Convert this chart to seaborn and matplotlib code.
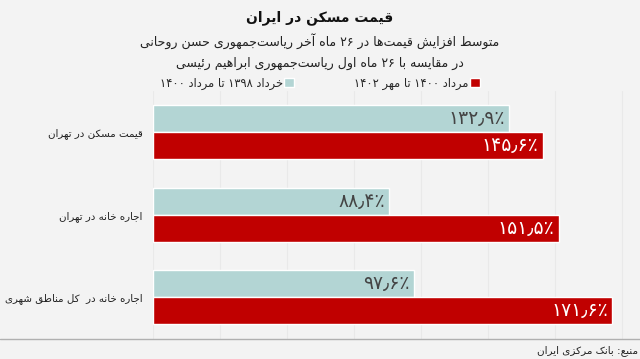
import re
import matplotlib
matplotlib.use("Agg")
import matplotlib.pyplot as plt
from matplotlib.patches import Patch
from matplotlib.lines import Line2D
import pandas as pd
import seaborn as sns

# ---------------- data ----------------
title = "قیمت مسکن در ایران"
subtitle1 = "متوسط افزایش قیمت‌ها در ۲۶ ماه آخر ریاست‌جمهوری حسن روحانی"
subtitle2 = "در مقایسه با ۲۶ ماه اول ریاست‌جمهوری ابراهیم رئیسی"
source = "منبع: بانک مرکزی ایران"
categories = ["قیمت مسکن در تهران", "اجاره خانه در تهران", "اجاره خانه در  کل مناطق شهری"]
series_names = ["خرداد ۱۳۹۸ تا مرداد ۱۴۰۰", "مرداد ۱۴۰۰ تا مهر ۱۴۰۲"]
rouhani_values = [132.9, 88.4, 97.6]
raisi_values = [145.6, 151.5, 171.6]
value_labels_rouhani = ["۱۳۲٫۹٪", "۸۸٫۴٪", "۹۷٫۶٪"]
value_labels_raisi = ["۱۴۵٫۶٪", "۱۵۱٫۵٪", "۱۷۱٫۶٪"]
colors = ["#b3d5d4", "#c00000"]

# ------------- minimal Persian shaping + bidi -------------
FORMS = {
    "\u0627": ("\uFE8D", "\uFE8E", None, None),
    "\u0622": ("\uFE81", "\uFE82", None, None),
    "\u0628": ("\uFE8F", "\uFE90", "\uFE91", "\uFE92"),
    "\u067E": ("\uFB56", "\uFB57", "\uFB58", "\uFB59"),
    "\u062A": ("\uFE95", "\uFE96", "\uFE97", "\uFE98"),
    "\u062B": ("\uFE99", "\uFE9A", "\uFE9B", "\uFE9C"),
    "\u062C": ("\uFE9D", "\uFE9E", "\uFE9F", "\uFEA0"),
    "\u0686": ("\uFB7A", "\uFB7B", "\uFB7C", "\uFB7D"),
    "\u062D": ("\uFEA1", "\uFEA2", "\uFEA3", "\uFEA4"),
    "\u062E": ("\uFEA5", "\uFEA6", "\uFEA7", "\uFEA8"),
    "\u062F": ("\uFEA9", "\uFEAA", None, None),
    "\u0630": ("\uFEAB", "\uFEAC", None, None),
    "\u0631": ("\uFEAD", "\uFEAE", None, None),
    "\u0632": ("\uFEAF", "\uFEB0", None, None),
    "\u0698": ("\uFB8A", "\uFB8B", None, None),
    "\u0633": ("\uFEB1", "\uFEB2", "\uFEB3", "\uFEB4"),
    "\u0634": ("\uFEB5", "\uFEB6", "\uFEB7", "\uFEB8"),
    "\u0635": ("\uFEB9", "\uFEBA", "\uFEBB", "\uFEBC"),
    "\u0636": ("\uFEBD", "\uFEBE", "\uFEBF", "\uFEC0"),
    "\u0637": ("\uFEC1", "\uFEC2", "\uFEC3", "\uFEC4"),
    "\u0638": ("\uFEC5", "\uFEC6", "\uFEC7", "\uFEC8"),
    "\u0639": ("\uFEC9", "\uFECA", "\uFECB", "\uFECC"),
    "\u063A": ("\uFECD", "\uFECE", "\uFECF", "\uFED0"),
    "\u0641": ("\uFED1", "\uFED2", "\uFED3", "\uFED4"),
    "\u0642": ("\uFED5", "\uFED6", "\uFED7", "\uFED8"),
    "\u06A9": ("\uFB8E", "\uFB8F", "\uFB90", "\uFB91"),
    "\u06AF": ("\uFB92", "\uFB93", "\uFB94", "\uFB95"),
    "\u0644": ("\uFEDD", "\uFEDE", "\uFEDF", "\uFEE0"),
    "\u0645": ("\uFEE1", "\uFEE2", "\uFEE3", "\uFEE4"),
    "\u0646": ("\uFEE5", "\uFEE6", "\uFEE7", "\uFEE8"),
    "\u0648": ("\uFEED", "\uFEEE", None, None),
    "\u0647": ("\uFEE9", "\uFEEA", "\uFEEB", "\uFEEC"),
    "\u06CC": ("\uFBFC", "\uFBFD", "\uFBFE", "\uFBFF"),
    "\u0626": ("\uFE89", "\uFE8A", "\uFE8B", "\uFE8C"),
}


def shape(s):
    out = []
    n = len(s)
    for i, ch in enumerate(s):
        if ch not in FORMS:
            if ch != "\u200C":
                out.append(ch)
            continue
        prev = s[i - 1] if i > 0 else ""
        nxt = s[i + 1] if i + 1 < n else ""
        jp = prev in FORMS and FORMS[prev][2] is not None
        jn = FORMS[ch][2] is not None and nxt in FORMS
        iso, fin, ini, med = FORMS[ch]
        if jp and jn:
            out.append(med)
        elif jp:
            out.append(fin)
        elif jn:
            out.append(ini)
        else:
            out.append(iso)
    return "".join(out)


DIG = "\u06F0-\u06F90-9\u066B"


def fa(s):
    shaped = shape(s)
    toks = re.findall(rf"[{DIG}]+|[^{DIG}]+", shaped)
    return "".join(t if re.fullmatch(rf"[{DIG}]+", t) else t[::-1] for t in reversed(toks))


# ---------------- plot ----------------
BG = "#f3f3f3"
sns.set_theme(style="white")
plt.rcParams["font.family"] = ["DejaVu Sans"]

df = pd.DataFrame({
    "category": categories * 2,
    "series": [series_names[0]] * 3 + [series_names[1]] * 3,
    "value": rouhani_values + raisi_values,
})

fig = plt.figure(figsize=(6.4, 3.59), dpi=100, facecolor=BG)
H = 359.0
ax = fig.add_axes([152.5 / 640, 1 - 338.6 / H, 1 - 152.5 / 640, (338.6 - 90.7) / H])
ax.set_facecolor(BG)

sns.barplot(data=df, y="category", x="value", hue="series", hue_order=series_names,
            palette=colors, orient="h", width=0.655, gap=0, saturation=1,
            legend=False, ax=ax, order=categories)

ax.set_xlim(0, (640 - 152.5) / 2.68)
ax.set_ylim(2.5, -0.5)
ax.set_xlabel("")
ax.set_ylabel("")
ax.set_xticks(range(0, 181, 25))
ax.set_xticklabels([])
ax.tick_params(axis="x", length=0)
ax.grid(axis="x", color="#e9e9e9", linewidth=0.8)
ax.set_axisbelow(True)
for sp in ax.spines.values():
    sp.set_visible(False)
ax.set_yticks(range(len(categories)))
ax.set_yticklabels([fa(c) for c in categories], fontsize=7.4, color="#222222")
ax.tick_params(axis="y", length=0, pad=7)

label_sets = [value_labels_rouhani, value_labels_raisi]
text_colors = ["#444444", "white"]
for cont, labels, tc in zip(ax.containers, label_sets, text_colors):
    for p, lab in zip(cont.patches, labels):
        ax.annotate(lab, (p.get_width(), p.get_y() + p.get_height() / 2),
                    xytext=(-3, 0), textcoords="offset points",
                    ha="right", va="center", fontsize=13.5, color=tc)

# titles
fig.text(0.5, 1 - 18 / H, fa(title), ha="center", va="center", fontsize=10,
         fontweight="bold", color="#111111")
fig.text(0.5, 1 - 41 / H, fa(subtitle1), ha="center", va="center", fontsize=9, color="#222222")
fig.text(0.5, 1 - 63 / H, fa(subtitle2), ha="center", va="center", fontsize=9, color="#222222")

handles = [Patch(facecolor=colors[0]), Patch(facecolor=colors[1])]
fig.legend(handles, [fa(n) for n in series_names], loc="center",
           bbox_to_anchor=(0.5, 1 - 83 / H), ncol=2, frameon=False, markerfirst=False,
           handlelength=0.9, handleheight=0.9, handletextpad=0.1, columnspacing=5.2,
           fontsize=8.3, borderaxespad=0, borderpad=0)

fig.add_artist(Line2D([0, 1], [1 - 339 / H, 1 - 339 / H], transform=fig.transFigure,
                      color="#b0b0b0", linewidth=1))
fig.text(638 / 640, 1 - 351 / H, fa(source), ha="right", va="center", fontsize=7.5,
         color="#222222")

fig.savefig("out.png", dpi=100, facecolor=BG)
